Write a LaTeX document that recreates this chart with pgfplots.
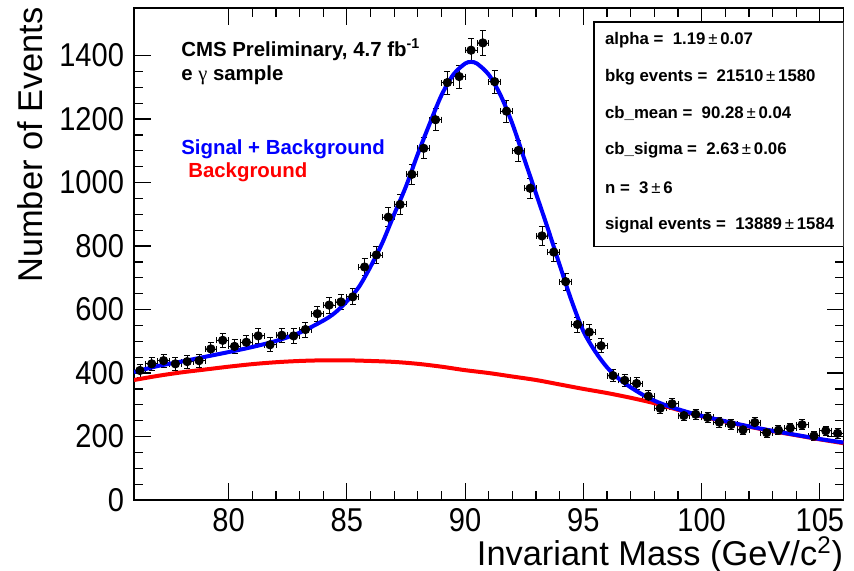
\documentclass[border=0pt]{standalone}
\usepackage{pgfplots}
\usepackage{pgfplotstable}
\pgfplotsset{compat=1.18}
\usepackage{fontspec}
\setmainfont{Liberation Sans}
\newfontfamily\serifsym{Liberation Serif}
\newfontfamily\tickfont{Liberation Sans}[FakeStretch=0.88]

\pgfplotstableread{
x y ex ey
76.25 408 0.25 20.2
76.75 429 0.25 20.7
77.25 439 0.25 21.0
77.75 429 0.25 20.7
78.25 436 0.25 20.9
78.75 439 0.25 21.0
79.25 476 0.25 21.8
79.75 503 0.25 22.4
80.25 484 0.25 22.0
80.75 497 0.25 22.3
81.25 517 0.25 22.7
81.75 489 0.25 22.1
82.25 519 0.25 22.8
82.75 517 0.25 22.7
83.25 537 0.25 23.2
83.75 587 0.25 24.2
84.25 614 0.25 24.8
84.75 624 0.25 25.0
85.25 640 0.25 25.3
85.75 734 0.25 27.1
86.25 772 0.25 27.8
86.75 891 0.25 29.8
87.25 931 0.25 30.5
87.75 1026 0.25 32.0
88.25 1108 0.25 33.3
88.75 1198 0.25 34.6
89.25 1315 0.25 36.3
89.75 1334 0.25 36.5
90.25 1417 0.25 37.6
90.75 1440 0.25 37.9
91.25 1318 0.25 36.3
91.75 1225 0.25 35.0
92.25 1101 0.25 33.2
92.75 982 0.25 31.3
93.25 832 0.25 28.8
93.75 781 0.25 27.9
94.25 688 0.25 26.2
94.75 553 0.25 23.5
95.25 529 0.25 23.0
95.75 486 0.25 22.0
96.25 392 0.25 19.8
96.75 377 0.25 19.4
97.25 367 0.25 19.2
97.75 327 0.25 18.1
98.25 289 0.25 17.0
98.75 303 0.25 17.4
99.25 266 0.25 16.3
99.75 270 0.25 16.4
100.25 260 0.25 16.1
100.75 245 0.25 15.7
101.25 238 0.25 15.4
101.75 221 0.25 14.9
102.25 244 0.25 15.6
102.75 212 0.25 14.6
103.25 220 0.25 14.8
103.75 227 0.25 15.1
104.25 237 0.25 15.4
104.75 202 0.25 14.2
105.25 218 0.25 14.8
105.75 210 0.25 14.5
}\datatable

\begin{document}
\begin{tikzpicture}
\begin{axis}[
  scale only axis,
  width=354.75pt, height=246pt,
  xmin=76, xmax=106, ymin=0, ymax=1550,
  axis line style={line width=0.6pt},
  tick align=inside,
  xtick={80,85,...,105},
  minor x tick num=4,
  ytick={0,200,...,1400},
  minor y tick num=3,
  major tick length=8.5pt,
  minor tick length=4.5pt,
  every tick/.style={black, line width=0.6pt},
  /pgf/number format/assume math mode=true,
  /pgf/number format/1000 sep={},
  tick label style={font=\tickfont\fontsize{16.5}{18}\selectfont},
  xticklabel style={yshift=-0.5pt},
  yticklabel style={xshift=-1.5pt},
  xlabel={Invariant Mass (GeV/c\textsuperscript{2})},
  ylabel={Number of Events},
  label style={font=\fontsize{17.2}{20}\selectfont},
  xlabel style={at={(rel axis cs:1,0)}, anchor=north east, inner sep=0pt, yshift=-18pt},
  ylabel style={at={(rel axis cs:0,1)}, anchor=south east, inner sep=0pt, yshift=45.5pt, xshift=0.5pt},
  clip=true,
]
% data
\addplot[only marks, mark=*, mark size=2.1pt, black,
  error bars/.cd, x dir=both, x explicit, y dir=both, y explicit,
  error mark=|, error mark options={black, line width=0.4pt, mark size=1.5pt},
  error bar style={black, line width=0.4pt}]
  table[x=x, y=y, x error=ex, y error=ey] {\datatable};
% background
\addplot[red, line width=2pt, smooth] coordinates {
(76,378) (77,391) (78,402) (79,411) (80,420) (81,428) (82,434) (83,438)
(84,440) (85,440) (86,438) (87,435) (88,429) (89,420) (90,409) (91,400)
(92,389) (93,378) (94,364) (95,350) (96,337) (97,322) (98,305) (99,284)
(100,264) (101,247) (102,231) (103,217) (104,204) (105,191) (106,179)};
% signal + background
\addplot[blue, line width=2pt, smooth] coordinates {
(76,403) (77,422) (78,436) (79,451) (80,466) (81,482) (82,501) (83,527)
(84,565) (84.5,590) (85,626) (85.5,670) (86,735) (86.5,810) (87,900)
(87.5,988) (88,1090) (88.5,1185) (89,1275) (89.5,1340) (90,1375) (90.25,1380)
(90.5,1375) (91,1340) (91.5,1275) (92,1185) (92.5,1075) (93,965) (93.5,855)
(94,740) (94.5,628) (95,532) (95.5,468) (96,418) (96.5,382) (97,355)
(97.5,332) (98,313) (98.5,298) (99,286) (99.5,275) (100,265) (101,248)
(102,232) (103,218) (104,205) (105,192) (106,181)};
% annotations
\node[anchor=west, inner sep=0pt, font=\fontsize{10.2}{12}\selectfont\bfseries] at (rel axis cs:0.0662,0.915) {CMS Preliminary, 4.7 fb\textsuperscript{-1}};
\node[anchor=west, inner sep=0pt, font=\fontsize{10.2}{12}\selectfont\bfseries] at (rel axis cs:0.0662,0.864) {e {\serifsym\mdseries γ} sample};
\node[anchor=west, inner sep=0pt, text=blue, font=\fontsize{10.2}{12}\selectfont\bfseries] at (rel axis cs:0.0662,0.7134) {Signal + Background};
\node[anchor=west, inner sep=0pt, text=red, font=\fontsize{10.2}{12}\selectfont\bfseries] at (rel axis cs:0.0760,0.6667) {Background};
% stats box
\draw[black, line width=0.6pt, fill=white] (rel axis cs:0.6483,0.5148) rectangle (rel axis cs:1,0.9715);
\begin{scope}[every node/.style={anchor=west, inner sep=0pt, font=\fontsize{8.4}{10}\selectfont\bfseries}]
\node at (rel axis cs:0.6634,0.935) {alpha =\ \ 1.19\,{\mdseries ±}\,0.07};
\node at (rel axis cs:0.6634,0.860) {bkg events =\ \ 21510\,{\mdseries ±}\,1580};
\node at (rel axis cs:0.6634,0.785) {cb\_mean =\ \ 90.28\,{\mdseries ±}\,0.04};
\node at (rel axis cs:0.6634,0.710) {cb\_sigma =\ \ 2.63\,{\mdseries ±}\,0.06};
\node at (rel axis cs:0.6634,0.634) {n =\ \ 3\,{\mdseries ±}\,6};
\node at (rel axis cs:0.6634,0.5589) {signal events =\ \ 13889\,{\mdseries ±}\,1584};
\end{scope}
\coordinate (bbSW) at (rel axis cs:0,0);
\coordinate (bbNE) at (rel axis cs:1,1);
\end{axis}
\pgfresetboundingbox
\path ([shift={(-67pt,-35.5pt)}]bbSW) rectangle ([shift={(5.25pt,4pt)}]bbNE);
\end{tikzpicture}
\end{document}
